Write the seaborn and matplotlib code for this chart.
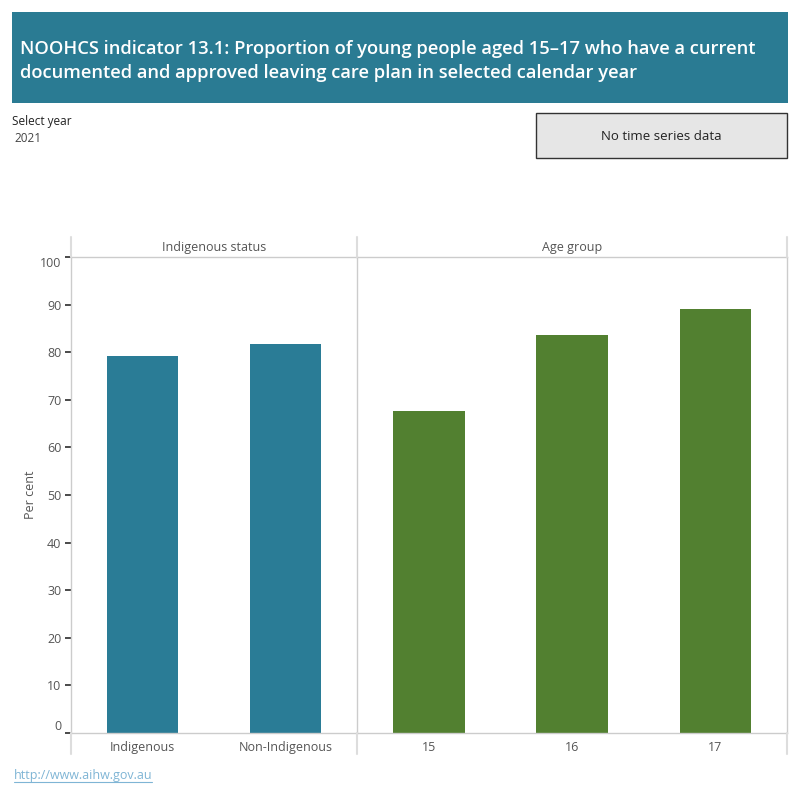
import matplotlib
matplotlib.use("Agg")
import matplotlib.pyplot as plt
import seaborn as sns
import pandas as pd
from matplotlib.patches import Rectangle
from matplotlib.lines import Line2D

# ---- data ----
title_text = ("NOOHCS indicator 13.1: Proportion of young people aged 15\u201317 who have a current\n"
              "documented and approved leaving care plan in selected calendar year")
year = "2021"
indig_cats = ["Indigenous", "Non-Indigenous"]
indig_vals = [79.2, 81.7]
age_cats = ["15", "16", "17"]
age_vals = [67.6, 83.6, 89.1]
y_ticks = [0, 10, 20, 30, 40, 50, 60, 70, 80, 90, 100]

TEAL = "#2a7c96"
GREEN = "#528030"
GRID = "#cccccc"
TXT = "#555555"

sns.set_theme(style="white")
plt.rcParams["font.family"] = ["Open Sans", "DejaVu Sans"]

W = H = 800
fig = plt.figure(figsize=(8, 8), dpi=100)

def fx(x):
    return x / W

def fy(y):
    return 1 - y / H

# Title banner
fig.patches.append(Rectangle((fx(12), fy(103)), fx(788) - fx(12), fy(12) - fy(103),
                             transform=fig.transFigure, facecolor="#2a7b93", edgecolor="none", zorder=0))
fig.text(fx(20), fy(61), title_text, color="white", fontsize=13.2, fontweight="semibold",
         va="center", ha="left", linespacing=1.45)

# Select year
fig.text(fx(12), fy(122), "Select year", fontsize=8.5, color="#222222", va="center", ha="left")
fig.text(fx(14), fy(138), year, fontsize=8.5, color="#444444", va="center", ha="left")

# Button
fig.patches.append(Rectangle((fx(536), fy(158)), fx(787) - fx(536), fy(113) - fy(158),
                             transform=fig.transFigure, facecolor="#e6e6e6", edgecolor="#333333",
                             linewidth=1))
fig.text(fx(661), fy(136), "No time series data", fontsize=9.5, color="#222222", va="center", ha="center")

# Axes
left_x0, div_x, right_x1 = 71, 357, 787
top_y, bot_y = 257, 733
ax1 = fig.add_axes([fx(left_x0), fy(bot_y), fx(div_x) - fx(left_x0), fy(top_y) - fy(bot_y)])
ax2 = fig.add_axes([fx(div_x), fy(bot_y), fx(right_x1) - fx(div_x), fy(top_y) - fy(bot_y)])

df1 = pd.DataFrame({"cat": indig_cats, "val": indig_vals})
df2 = pd.DataFrame({"cat": age_cats, "val": age_vals})
sns.barplot(data=df1, x="cat", y="val", color=TEAL, saturation=1, width=0.5, linewidth=0, ax=ax1)
sns.barplot(data=df2, x="cat", y="val", color=GREEN, saturation=1, width=0.5, linewidth=0, ax=ax2)

for ax, n in ((ax1, len(indig_cats)), (ax2, len(age_cats))):
    ax.set_ylim(0, 100)
    ax.set_xlim(-0.5, n - 0.5)
    ax.set_xlabel("")
    ax.set_ylabel("")
    for s in ax.spines.values():
        s.set_color(GRID)
        s.set_linewidth(1)
    ax.tick_params(axis="x", length=0, labelsize=9, labelcolor=TXT, pad=6)
    ax.set_xticks(range(n))
    ax.set_xticks([i - 0.5 for i in range(n + 1)], minor=True)
    ax.tick_params(axis="x", which="minor", length=5, color="#999999", width=1)

ax1.set_yticks(y_ticks)
ax1.tick_params(axis="y", length=4, color="#333333", labelsize=9, labelcolor=TXT, pad=3, left=True)
ylabels = ax1.get_yticklabels()
ylabels[0].set_va("bottom")
ylabels[-1].set_va("top")
ax1.set_ylabel("Per cent", fontsize=9, color=TXT, labelpad=2)
ax2.set_yticks([])
ax1.spines["right"].set_visible(False)

# Panel header band lines
for x in (left_x0, div_x, right_x1):
    fig.add_artist(Line2D([fx(x), fx(x)], [fy(237), fy(top_y)], transform=fig.transFigure,
                          color="#dddddd", linewidth=1.5))
    fig.add_artist(Line2D([fx(x), fx(x)], [fy(bot_y), fy(754)], transform=fig.transFigure,
                          color="#dddddd", linewidth=1.5))
fig.text((fx(left_x0) + fx(div_x)) / 2, fy(247), "Indigenous status", fontsize=9, color=TXT,
         ha="center", va="center")
fig.text((fx(div_x) + fx(right_x1)) / 2, fy(247), "Age group", fontsize=9, color=TXT,
         ha="center", va="center")

# Footer link
fig.text(fx(14), fy(775), "http://www.aihw.gov.au", fontsize=9, color="#7fb5d5",
         ha="left", va="center")
fig.add_artist(Line2D([fx(14), fx(152)], [fy(782), fy(782)], transform=fig.transFigure,
                      color="#7fb5d5", linewidth=0.8))

fig.savefig("out.png", dpi=100)
